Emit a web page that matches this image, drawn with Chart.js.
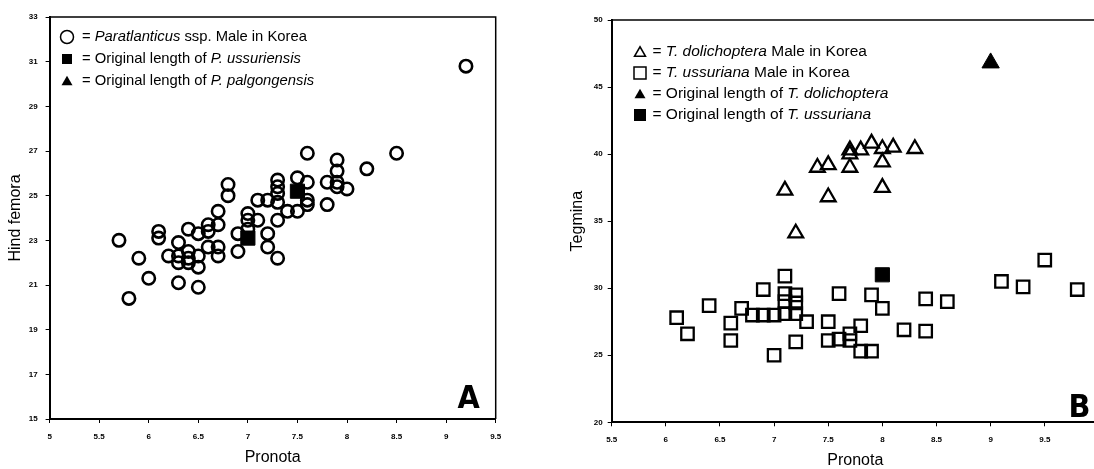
<!DOCTYPE html>
<html><head><meta charset="utf-8">
<script src="https://cdn.jsdelivr.net/npm/chart.js@4/dist/chart.umd.min.js"></script>
<style>
html,body{margin:0;padding:0;background:#fff;overflow:hidden;width:1094px;height:469px;}
#ca{position:absolute;left:0;top:0;}
#cb{position:absolute;left:540px;top:0;}
</style></head><body>
<canvas id="ca" width="540" height="469"></canvas>
<canvas id="cb" width="570" height="469"></canvas>
<script>
// ---------- Chart A data ----------
const koreaPronotaA = [5.7,5.8,5.9,6.0,6.1,6.1,6.2,6.3,6.3,6.3,6.3,6.4,6.4,6.4,6.4,6.5,6.5,6.5,6.5,6.6,6.6,6.6,6.7,6.7,6.7,6.7,6.8,6.8,6.9,6.9,7.0,7.0,7.0,7.1,7.1,7.2,7.2,7.2,7.3,7.3,7.3,7.3,7.3,7.3,7.4,7.5,7.5,7.6,7.6,7.6,7.6,7.8,7.8,7.9,7.9,7.9,7.9,8.0,8.2,8.5,9.2];
const koreaFemoraA  = [23.0,20.4,22.2,21.3,23.4,23.1,22.3,22.9,22.3,22.0,21.1,23.5,22.5,22.2,22.0,23.3,22.3,21.8,20.9,23.7,23.4,22.7,24.3,23.7,22.7,22.3,25.5,25.0,23.3,22.5,24.2,23.9,23.5,24.8,23.9,24.8,23.3,22.7,25.7,25.4,25.1,24.7,23.9,22.2,24.3,24.3,25.8,26.9,25.6,24.8,24.6,25.6,24.6,26.6,26.1,25.6,25.4,25.3,26.2,26.9,30.8];
const ussuriensisPronota = [7.0,7.5];
const ussuriensisFemora  = [23.1,25.2];
const xTicksA = [5,5.5,6,6.5,7,7.5,8,8.5,9,9.5];
const xLabelsA = ['5','5.5','6','6.5','7','7.5','8','8.5','9','9.5'];
const yTicksA = [15,17,19,21,23,25,27,29,31,33];
const yLabelsA = ['15','17','19','21','23','25','27','29','31','33'];

// ---------- Chart B data ----------
const dolichPronota = [7.1,7.2,7.4,7.5,7.5,7.7,7.7,7.7,7.8,7.9,8.0,8.0,8.0,8.1,8.3];
const dolichTegmina = [37.3,34.1,39.0,39.2,36.8,40.3,40.0,39.0,40.3,40.8,40.4,39.4,37.5,40.5,40.4];
const ussurianaPronota = [6.1,6.2,6.4,6.6,6.6,6.7,6.8,6.9,7.0,6.9,7.1,7.1,7.1,7.1,7.2,7.2,7.2,7.3,7.2,7.0,7.5,7.5,7.6,7.6,7.7,7.7,7.8,7.8,7.9,7.9,8.0,8.2,8.4,8.4,8.6,9.1,9.3,9.5,9.8];
const ussurianaTegmina = [27.8,26.6,28.7,27.4,26.1,28.5,28.0,28.0,28.0,29.9,30.9,29.6,29.0,28.1,29.5,28.9,28.1,27.5,26.0,25.0,27.5,26.1,29.6,26.2,26.6,26.1,27.2,25.3,25.3,29.5,28.5,26.9,29.2,26.8,29.0,30.5,30.1,32.1,29.9];
const origDolichPronota = [9.0];
const origDolichTegmina = [46.8];
const origUssurianaPronota = [8.0];
const origUssurianaTegmina = [31.0];
const xTicksB = [5.5,6,6.5,7,7.5,8,8.5,9,9.5];
const xLabelsB = ['5.5','6','6.5','7','7.5','8','8.5','9','9.5'];
const yTicksB = [20,25,30,35,40,45,50];
const yLabelsB = ['20','25','30','35','40','45','50'];

// ---------- legend texts ----------
const legendA = [
  [['= ',false],['Paratlanticus',true],[' ssp. Male in Korea',false]],
  [['= Original length of ',false],['P. ussuriensis',true]],
  [['= Original length of ',false],['P. palgongensis',true]]
];
const legendB = [
  [['= ',false],['T. dolichoptera',true],[' Male in Korea',false]],
  [['= ',false],['T. ussuriana',true],[' Male in Korea',false]],
  [['= Original length of ',false],['T. dolichoptera',true]],
  [['= Original length of ',false],['T. ussuriana',true]]
];

const pts = (xs, ys) => xs.map((x, i) => ({x: x, y: ys[i]}));
const FONT = "'Liberation Sans', Arial, sans-serif";

function drawSym(ctx, type, x, y, s) {
  ctx.save();
  ctx.strokeStyle = '#000'; ctx.fillStyle = '#000'; ctx.lineWidth = 1.5;
  ctx.beginPath();
  if (type === 'circle') { ctx.arc(x, y, s, 0, Math.PI*2); ctx.stroke(); }
  else if (type === 'fsquare') { ctx.rect(x-s, y-s, 2*s, 2*s); ctx.fill(); }
  else if (type === 'osquare') { ctx.rect(x-s, y-s, 2*s, 2*s); ctx.stroke(); }
  else if (type === 'ftri' || type === 'otri') {
    ctx.moveTo(x, y - s*1.05); ctx.lineTo(x + s*1.1, y + s*0.85); ctx.lineTo(x - s*1.1, y + s*0.85); ctx.closePath();
    if (type === 'ftri') ctx.fill(); else ctx.stroke();
  }
  ctx.restore();
}

const decor = {
  id: 'decor',
  afterDraw(chart, args, o) {
    const ctx = chart.ctx, a = chart.chartArea;
    ctx.save();
    ctx.strokeStyle = '#000'; ctx.lineWidth = 1.5;
    ctx.beginPath();
    ctx.moveTo(a.left, a.top); ctx.lineTo(a.right, a.top);
    if (o.rightBorder) { ctx.lineTo(a.right, a.bottom); }
    ctx.stroke();
    // legend
    o.rows.forEach((row, i) => {
      const y = o.y0 + i * o.dy;
      drawSym(ctx, o.syms[i], o.symX, y, o.symSize[i]);
      let x = o.textX;
      ctx.fillStyle = '#000'; ctx.textBaseline = 'middle'; ctx.textAlign = 'left';
      row.forEach(seg => {
        ctx.font = (seg[1] ? 'italic ' : '') + o.fontSize + 'px ' + FONT;
        ctx.fillText(seg[0], x, y);
        x += ctx.measureText(seg[0]).width;
      });
    });
    // panel letter
    ctx.font = "bold 32px 'Liberation Sans Narrow', 'DejaVu Sans Condensed', Arial, sans-serif";
    ctx.textAlign = 'center'; ctx.textBaseline = 'alphabetic';
    ctx.fillText(o.letter, a.right - o.letterDx, a.bottom - o.letterDy);
    ctx.restore();
  }
};

function axis(ticks, labels, min, max, title, isX, w, tickPad, titlePad) {
  return {
    type: 'linear', position: isX ? 'bottom' : 'left', min: min, max: max,
    afterFit: s => { if (isX) s.height = w; else s.width = w; },
    afterBuildTicks: s => { s.ticks = ticks.map(v => ({value: v})); },
    ticks: {
      autoSkip: false, maxRotation: 0, padding: tickPad, color: '#000',
      font: {family: FONT, size: 8, weight: 'bold'},
      callback: (v) => { const k = ticks.indexOf(v); return k >= 0 ? labels[k] : ''; }
    },
    grid: {display: true, drawOnChartArea: false, drawTicks: true, tickLength: 4, color: '#000', lineWidth: 1},
    border: {display: true, color: '#000', width: 2},
    title: {display: true, text: title, color: '#000', font: {family: FONT, size: 16, lineHeight: 1}, padding: titlePad}
  };
}

new Chart(document.getElementById('ca'), {
  type: 'scatter',
  data: {datasets: [
    {label: 'Original length of P. ussuriensis', data: pts(ussuriensisPronota, ussuriensisFemora),
     pointStyle: 'rect', pointRadius: 10, backgroundColor: '#000', borderColor: '#000', borderWidth: 1},
    {label: 'Paratlanticus ssp. Male in Korea', data: pts(koreaPronotaA, koreaFemoraA),
     pointStyle: 'circle', pointRadius: 6.2, backgroundColor: 'rgba(0,0,0,0)', borderColor: '#000', borderWidth: 2.6}
  ]},
  options: {
    responsive: false, animation: false, events: [],
    layout: {padding: {left: 0, top: 17, right: 44.3, bottom: 0}},
    plugins: {legend: {display: false}, tooltip: {enabled: false},
      decor: {rightBorder: true, rows: legendA, syms: ['circle','fsquare','ftri'], symSize: [6.5,5,5],
              symX: 67, textX: 82, y0: 37, dy: 22, fontSize: 14.8, letter: 'A', letterDx: 27, letterDy: 11}},
    scales: {
      x: axis(xTicksA, xLabelsA, 5, 9.5, 'Pronota', true, 50, 9, {top: 0, bottom: 3}),
      y: axis(yTicksA, yLabelsA, 15, 33, 'Hind femora', false, 49.6, 8, {top: 7.5, bottom: 0})
    }
  },
  plugins: [decor]
});

new Chart(document.getElementById('cb'), {
  type: 'scatter',
  data: {datasets: [
    {label: 'Original length of T. dolichoptera', data: pts(origDolichPronota, origDolichTegmina),
     pointStyle: 'triangle', pointRadius: 10, backgroundColor: '#000', borderColor: '#000', borderWidth: 1},
    {label: 'Original length of T. ussuriana', data: pts(origUssurianaPronota, origUssurianaTegmina),
     pointStyle: 'rect', pointRadius: 10, backgroundColor: '#000', borderColor: '#000', borderWidth: 1},
    {label: 'T. dolichoptera Male in Korea', data: pts(dolichPronota, dolichTegmina),
     pointStyle: 'triangle', pointRadius: 8.5, backgroundColor: 'rgba(0,0,0,0)', borderColor: '#000', borderWidth: 2.3},
    {label: 'T. ussuriana Male in Korea', data: pts(ussurianaPronota, ussurianaTegmina),
     pointStyle: 'rect', pointRadius: 8.8, backgroundColor: 'rgba(0,0,0,0)', borderColor: '#000', borderWidth: 2.3}
  ]},
  options: {
    responsive: false, animation: false, events: [],
    layout: {padding: {left: 26, top: 20, right: 4, bottom: 0}},
    plugins: {legend: {display: false}, tooltip: {enabled: false},
      decor: {rightBorder: false, rows: legendB, syms: ['otri','osquare','ftri','fsquare'], symSize: [5,6,5,6],
              symX: 100, textX: 112.5, y0: 52, dy: 21, fontSize: 15.5, letter: 'B', letterDx: 19.5, letterDy: 5}},
    scales: {
      x: axis(xTicksB, xLabelsB, 5.5, 10, 'Pronota', true, 46.7, 8.5, {top: 0, bottom: 0}),
      y: axis(yTicksB, yLabelsB, 20, 50, 'Tegmina', false, 45.7, 5, {top: 3.5, bottom: 0})
    }
  },
  plugins: [decor]
});
</script>
</body></html>
